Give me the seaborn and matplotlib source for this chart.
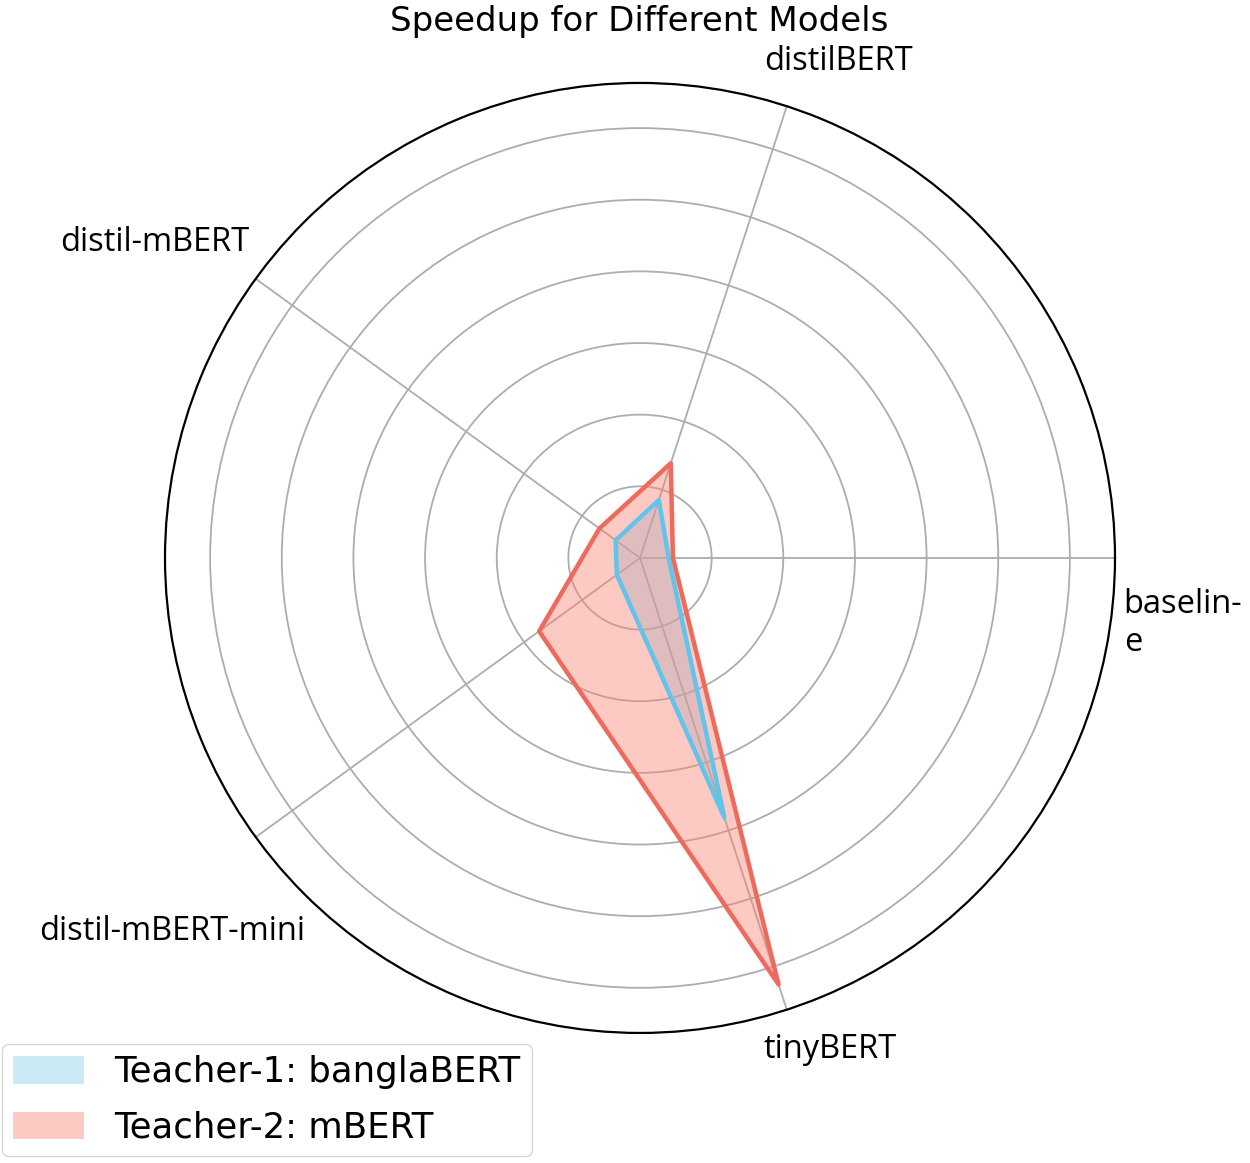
import numpy as np
import pandas as pd
import seaborn as sns
import matplotlib
matplotlib.use("Agg")
import matplotlib.pyplot as plt

# Data
models = ["baselin-\ne", "distilBERT", "distil-mBERT", "distil-mBERT-mini", "tinyBERT"]
teacher1 = [0.40, 0.85, 0.42, 0.40, 3.81]   # banglaBERT
teacher2 = [0.46, 1.39, 0.70, 1.74, 6.26]   # mBERT
series_names = ["Teacher-1: banglaBERT", "Teacher-2: mBERT"]
rings = [1, 2, 3, 4, 5, 6]
r_max = 6.63

# label offsets (points) from the end of each spoke
label_offsets = [(49, -47), (37, 32), (-73, 26), (-60, -68), (31, -29)]

sns.set_style("white")
plt.rcParams.update({"text.color": "black", "axes.labelcolor": "black"})

n = len(models)
angles = np.linspace(0, 2 * np.pi, n, endpoint=False)
closed = np.append(angles, 2 * np.pi)   # 2*pi, not 0, so seaborn keeps the closing point

fig = plt.figure(figsize=(12.5, 11.63), dpi=100)
ax = fig.add_axes([0.132, 0.1118, 0.76, 0.8169], polar=True)

line_colors = ["#62c4ea", "#ee6a5c"]
fill_colors = ["skyblue", "salmon"]

for vals, name, fc in zip([teacher1, teacher2], series_names, fill_colors):
    v = np.append(vals, vals[0])
    ax.fill(closed, v, color=fc, alpha=0.42, label=name, lw=0)

for vals, lc in zip([teacher1, teacher2], line_colors):
    df = pd.DataFrame({"theta": closed, "r": np.append(vals, vals[0])})
    sns.lineplot(data=df, x="theta", y="r", ax=ax, sort=False, color=lc,
                 lw=3.2, legend=False, zorder=3)

ax.set_ylim(0, r_max)
ax.set_yticks(rings)
ax.set_yticklabels([])
ax.set_xticks(angles)
ax.set_xticklabels([])
ax.set_xlabel("")
ax.set_ylabel("")
ax.grid(True, color="#adadad", lw=1.3)
ax.spines["polar"].set_color("black")
ax.spines["polar"].set_linewidth(1.6)

for ang, lab, off in zip(angles, models, label_offsets):
    ax.annotate(lab, xy=(ang, r_max), xytext=off, textcoords="offset points",
                ha="center", va="center", fontsize=23.5, family="Open Sans",
                multialignment="left", annotation_clip=False, color="black")

fig.text(0.511, 0.996, "Speedup for Different Models", ha="center", va="top",
         fontsize=24.5, family="DejaVu Sans", color="black")

leg = ax.legend(loc="lower left", bbox_to_anchor=(0.0015, 0.006),
                bbox_transform=fig.transFigure, fontsize=25.6, frameon=True,
                borderaxespad=0, borderpad=0.32, handleheight=0.8,
                handletextpad=0.85, labelspacing=0.6)
leg.get_frame().set_edgecolor("#cccccc")
for t in leg.get_texts():
    t.set_color("black")

fig.savefig("out.png", dpi=100)
